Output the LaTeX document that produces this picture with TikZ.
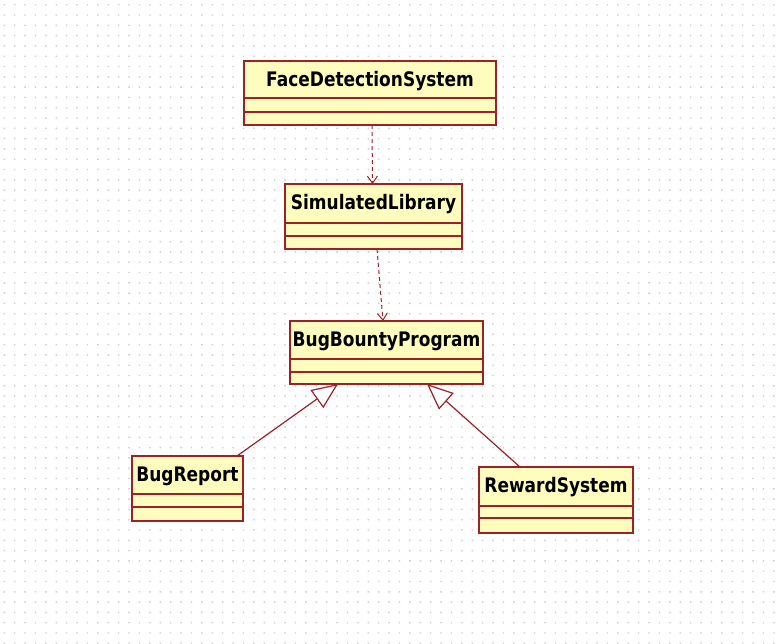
\documentclass[tikz,border=0pt]{standalone}
\usepackage{fontspec}
\setmainfont{DejaVu Sans}
\newfontfamily\clsfont[FakeStretch=0.85]{DejaVu Sans}
\usetikzlibrary{arrows.meta,calc}

\definecolor{umlline}{RGB}{158,32,40}
\definecolor{umlfill}{RGB}{255,253,190}
\definecolor{griddot}{RGB}{205,205,205}

\tikzset{
  clsbox/.style={rectangle, draw=umlline, fill=umlfill, line width=1.6pt,
    inner sep=0pt, outer sep=0pt},
  clsdiv/.style={draw=umlline, line width=1.6pt},
  clsname/.style={anchor=base, inner sep=0pt,
    font=\clsfont\bfseries\fontsize{20}{24}\selectfont},
  dep/.style={draw=umlline, line width=1pt, dash pattern=on 4pt off 3pt,
    -{Straight Barb[length=7pt,width=10pt,line width=1pt]}},
  gen/.style={draw=umlline, line width=1.2pt,
    -{Triangle[length=26pt,width=22pt,fill=white,line width=1.2pt]}}
}

% \umlclass{name}{left}{top}{right}{bottom}{divider 1}{divider 2}{class name}
\newcommand\umlclass[8]{%
  \node[clsbox, minimum width={#4-#2}, minimum height={#5-#3}]
    (#1) at ({(#2+#4)/2},{(#3+#5)/2}) {};
  \draw[clsdiv] (#2,#6) -- (#4,#6) (#2,#7) -- (#4,#7);
  \node[clsname] (#1-name) at ({(#2+#4)/2},{#3+25}) {#8};
}

\begin{document}
\begin{tikzpicture}[x=1pt,y=-1pt]
  % canvas
  \fill[white] (0,0) rectangle (779,643);
  \useasboundingbox (0,0) rectangle (779,643);

  % dotted drawing grid
  \fill[griddot] \foreach \i in {0,...,75} {
    \foreach \j in {0,...,62} { (3.6+\i*10.4, 4+\j*10.3) rectangle ++(1.4,1.4) }
  };

  % classes
  \umlclass{fds}{244}{61}{496}{125}{98}{112}{FaceDetectionSystem}
  \umlclass{sl}{285}{184}{462}{249}{223}{236}{SimulatedLibrary}
  \umlclass{bbp}{290}{321}{483}{384}{359}{372}{BugBountyProgram}
  \umlclass{br}{132}{456}{243}{521}{494}{507}{BugReport}
  \umlclass{rs}{479}{467}{633}{533}{506}{518}{RewardSystem}

  % dependencies
  \draw[dep] ($(fds.south)+(2,0)$) -- ($(sl.north)+(-1,0)$);
  \draw[dep] ($(sl.south)+(3.5,0)$) -- ($(bbp.north)+(-3.5,0)$);

  % generalisations
  \draw[gen] ($(br.north east)+(-6,0)$) -- ($(bbp.south)+(-48.5,0)$);
  \draw[gen] ($(rs.north)+(-36,0)$) -- ($(bbp.south)+(40.5,0)$);
\end{tikzpicture}
\end{document}
